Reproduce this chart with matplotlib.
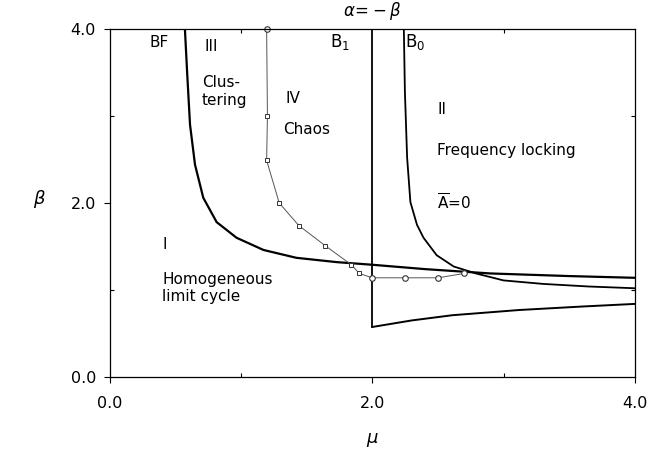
import matplotlib.pyplot as plt
from matplotlib.ticker import MultipleLocator, FormatStrFormatter

# BF curve (boundary between I and III, continues to the right)
bf_mu = [0.571, 0.589, 0.61, 0.648, 0.711, 0.813, 0.965, 1.17, 1.42, 1.73, 2.0, 2.4, 2.9, 3.5, 4.0]
bf_beta = [4.0, 3.47, 2.90, 2.44, 2.06, 1.78, 1.60, 1.46, 1.37, 1.32, 1.29, 1.24, 1.19, 1.16, 1.14]

# B1 line (alpha = -beta) and lower branch
b1_mu = [2.0, 2.0]
b1_beta = [4.0, 0.575]
low_mu = [2.0, 2.3, 2.61, 3.12, 3.6, 4.0]
low_beta = [0.575, 0.65, 0.71, 0.77, 0.81, 0.84]

# B0 curve
b0_mu = [2.24, 2.248, 2.265, 2.29, 2.34, 2.39, 2.49, 2.62, 2.79, 3.0, 3.3, 3.65, 4.0]
b0_beta = [4.0, 3.28, 2.52, 2.01, 1.75, 1.60, 1.40, 1.27, 1.19, 1.11, 1.07, 1.04, 1.02]

# chaos boundary: squares and circles
sq_mu = [1.194, 1.2, 1.194, 1.29, 1.44, 1.64, 1.84, 1.90, 2.0]
sq_beta = [4.0, 3.0, 2.49, 2.0, 1.74, 1.51, 1.29, 1.19, 1.14]
ci_mu = [2.0, 2.25, 2.50, 2.70]
ci_beta = [1.14, 1.14, 1.14, 1.19]

plt.rcParams['font.family'] = ['DejaVu Sans']
fig = plt.figure(figsize=(6.49, 4.53), dpi=100)
ax = fig.add_axes([0.1695, 0.1678, 0.8085, 0.7682])

ax.plot(bf_mu, bf_beta, color='black', lw=1.6)
ax.plot(b1_mu, b1_beta, color='black', lw=1.3)
ax.plot(low_mu, low_beta, color='black', lw=1.4)
ax.plot(b0_mu, b0_beta, color='black', lw=1.3)

ax.plot(sq_mu, sq_beta, color='#555555', lw=0.7, marker='s', ms=3.5,
        mfc='white', mec='#333333', mew=0.7)
ax.plot(sq_mu[:1], sq_beta[:1], ls='none', marker='o', ms=4,
        mfc='white', mec='#333333', mew=0.8, clip_on=False)
ax.plot(ci_mu, ci_beta, color='#555555', lw=0.7, marker='o', ms=4,
        mfc='white', mec='#333333', mew=0.8)

ax.set_xlim(0, 4)
ax.set_ylim(0, 4)
ax.xaxis.set_major_locator(MultipleLocator(2))
ax.yaxis.set_major_locator(MultipleLocator(2))
ax.xaxis.set_minor_locator(MultipleLocator(1))
ax.yaxis.set_minor_locator(MultipleLocator(1))
ax.xaxis.set_major_formatter(FormatStrFormatter('%.1f'))
ax.yaxis.set_major_formatter(FormatStrFormatter('%.1f'))
ax.tick_params(which='major', direction='out', length=4, width=0.8, labelsize=11.5, pad=6)
ax.tick_params(which='minor', direction='in', length=3, width=0.8, top=True, right=True)
ax.tick_params(axis='x', which='major', pad=10)
for s in ax.spines.values():
    s.set_linewidth(0.9)

ax.set_xlabel(r'$\mu$', fontsize=13, labelpad=14)
ax.set_ylabel(r'$\beta$', fontsize=13, rotation=0)
ax.yaxis.set_label_coords(-0.135, 0.48)

fs = 11
ax.text(0.30, 3.85, 'BF', fontsize=fs, va='center')
ax.text(0.72, 3.8, 'III', fontsize=fs, va='center')
ax.text(0.70, 3.28, 'Clus-\ntering', fontsize=fs, va='center', linespacing=1.3)
ax.text(1.34, 3.2, 'IV', fontsize=fs, va='center')
ax.text(1.32, 2.84, 'Chaos', fontsize=fs, va='center')
ax.text(1.68, 3.85, r'B$_1$', fontsize=fs + 1, va='center')
ax.text(2.25, 3.85, r'B$_0$', fontsize=fs + 1, va='center')
ax.text(2.50, 3.08, 'II', fontsize=fs, va='center')
ax.text(2.49, 2.6, 'Frequency locking', fontsize=fs, va='center')
ax.text(2.49, 2.0, r'$\overline{\mathrm{A}}$=0', fontsize=fs, va='center')
ax.text(0.40, 1.52, 'I', fontsize=fs, va='center')
ax.text(0.40, 1.02, 'Homogeneous\nlimit cycle', fontsize=fs, va='center', linespacing=1.15)
ax.text(2.0, 4.08, r'$\alpha\!=\!-\beta$', fontsize=12, ha='center', va='bottom')

fig.savefig('out.png', dpi=100)
